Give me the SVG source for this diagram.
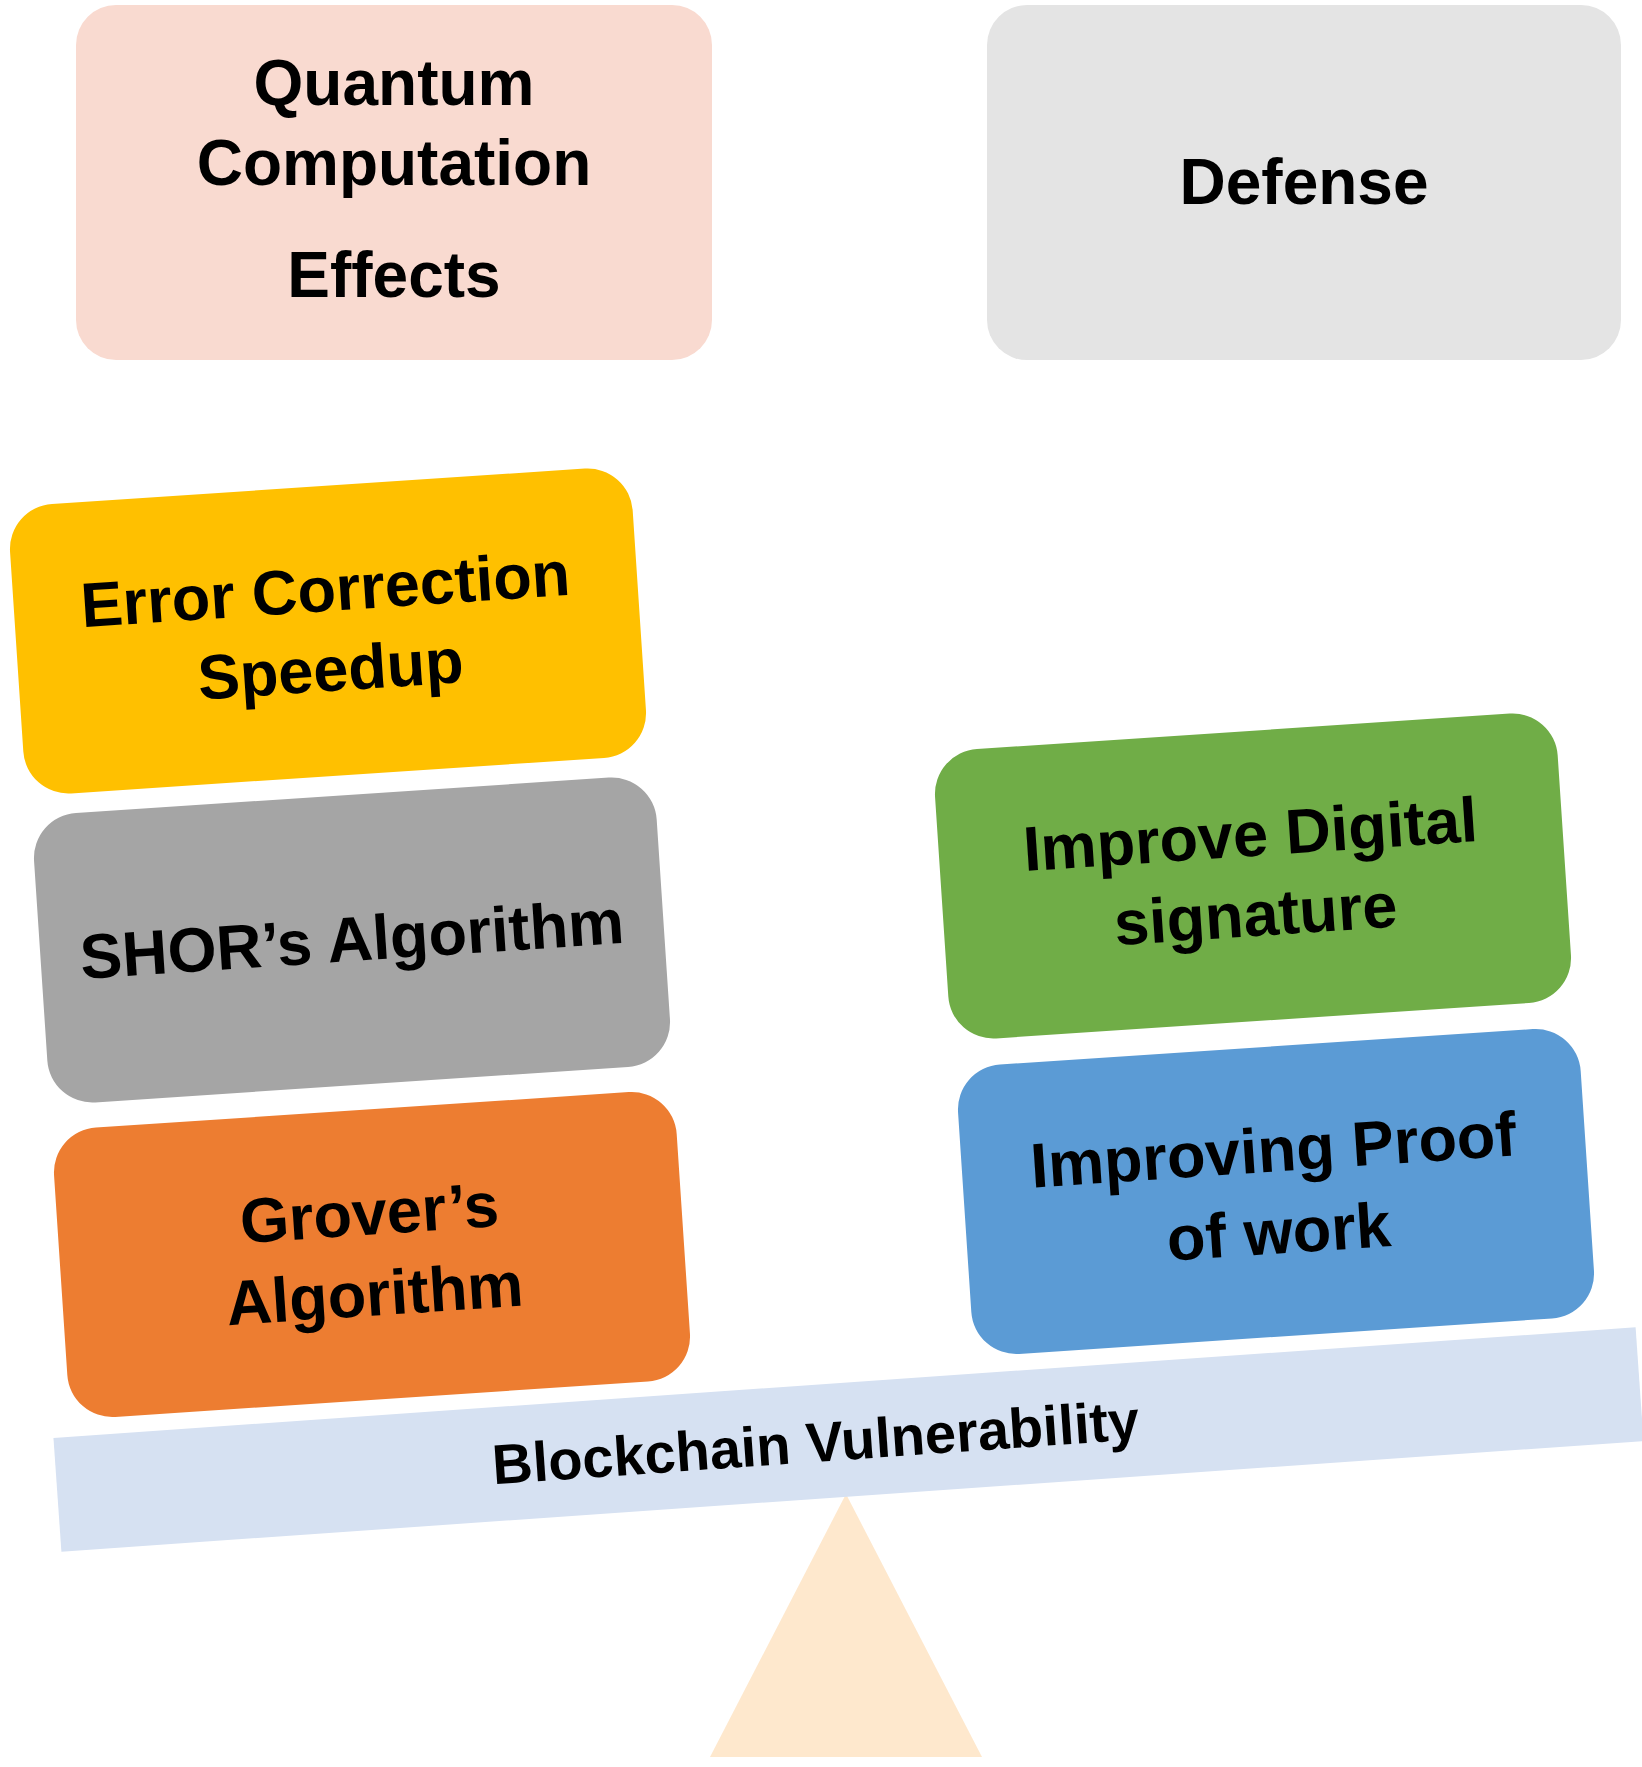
<svg xmlns="http://www.w3.org/2000/svg" width="1642" height="1767" viewBox="0 0 1642 1767">
  <style>
    .t { font-family: "Liberation Sans", Arial, sans-serif; font-weight: bold; font-size: 63px; fill: #000; text-anchor: middle; }
    .tt { font-family: "Liberation Sans", Arial, sans-serif; font-weight: bold; font-size: 64px; fill: #000; text-anchor: middle; }
    .tb { font-family: "Liberation Sans", Arial, sans-serif; font-weight: bold; font-size: 56px; fill: #000; text-anchor: middle; }
  </style>
  <rect x="0" y="0" width="1642" height="1767" fill="#FFFFFF"/>

  <g id="fulcrum">
    <polygon points="846,1494 710,1757 982,1757" fill="#FEE8CD"/>
  </g>

  <g id="beam" transform="translate(848.5,1439.5) rotate(-4)">
    <rect x="-793" y="-57" width="1586" height="114" fill="#D6E1F2"/>
    <text class="tb" x="-33" y="20">Blockchain Vulnerability</text>
  </g>

  <g id="quantum-effects">
    <rect x="76" y="5" width="636" height="355" rx="40" fill="#F9DAD0"/>
    <text class="tt" x="394" y="105">Quantum</text>
    <text class="tt" x="394" y="185">Computation</text>
    <text class="tt" x="394" y="297">Effects</text>
  </g>

  <g id="defense">
    <rect x="987" y="5" width="634" height="355" rx="40" fill="#E4E4E4"/>
    <text class="tt" x="1304" y="204">Defense</text>
  </g>

  <g id="error-correction" transform="translate(328,631) rotate(-3.8)">
    <rect x="-312" y="-145" width="624" height="290" rx="45" fill="#FFC000"/>
    <text class="t" x="0" y="-20">Error Correction</text>
    <text class="t" x="0" y="60">Speedup</text>
  </g>

  <g id="shor" transform="translate(352,940) rotate(-3.8)">
    <rect x="-312" y="-145" width="624" height="290" rx="45" fill="#A5A5A5"/>
    <text class="t" x="0" y="21">SHOR’s Algorithm</text>
  </g>

  <g id="grover" transform="translate(372,1254.5) rotate(-3.8)">
    <rect x="-312" y="-145" width="624" height="290" rx="45" fill="#ED7D31"/>
    <text class="t" x="0" y="-20">Grover’s</text>
    <text class="t" x="0" y="61">Algorithm</text>
  </g>

  <g id="digital-signature" transform="translate(1253,876) rotate(-3.8)">
    <rect x="-312" y="-145" width="624" height="290" rx="45" fill="#70AD47"/>
    <text class="t" x="0" y="-20">Improve Digital</text>
    <text class="t" x="0" y="60">signature</text>
  </g>

  <g id="proof-of-work" transform="translate(1276,1191.5) rotate(-3.8)">
    <rect x="-312" y="-145" width="624" height="290" rx="45" fill="#5B9BD5"/>
    <text class="t" x="0" y="-20">Improving Proof</text>
    <text class="t" x="0" y="62">of work</text>
  </g>

  <g id="connectors"/>
</svg>
